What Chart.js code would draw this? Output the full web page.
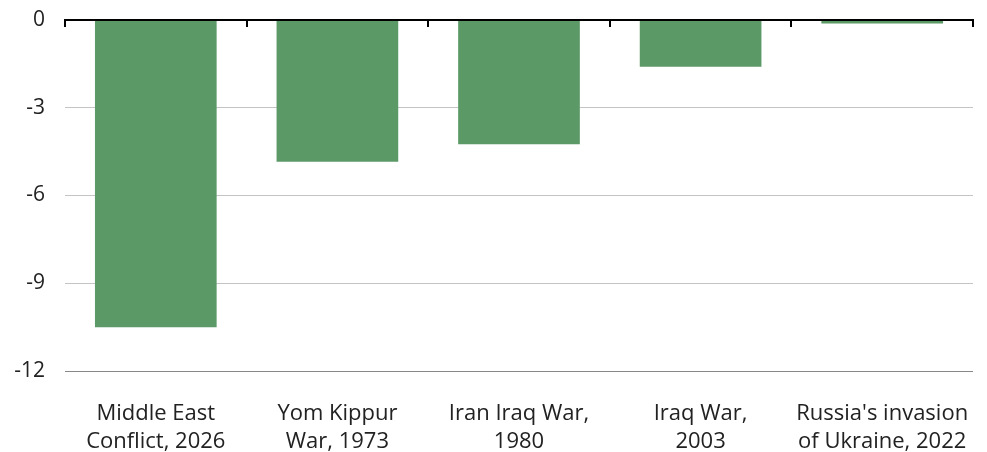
<!DOCTYPE html>
<html>
<head>
<meta charset="utf-8">
<script src="https://cdn.jsdelivr.net/npm/chart.js@4"></script>
<style>
html,body{margin:0;padding:0;background:#fff;}
#wrap{width:987px;height:452px;position:relative;}
</style>
</head>
<body>
<div id="wrap"><canvas id="c"></canvas></div>
<script>
const categories = [
  ["Middle East", "Conflict, 2026"],
  ["Yom Kippur", "War, 1973"],
  ["Iran Iraq War,", "1980"],
  ["Iraq War,", "2003"],
  ["Russia's invasion", "of Ukraine, 2022"]
];
const values = [-10.5, -4.85, -4.25, -1.6, -0.12];
const yTicks = [0, -3, -6, -9, -12];

const FONT = "'Open Sans', 'Noto Sans', sans-serif";

const tickMarks = {
  id: 'tickMarks',
  afterDatasetsDraw(chart) {
    const x = chart.scales.x, y = chart.scales.y;
    const ctx = chart.ctx;
    const y0 = y.getPixelForValue(0);
    ctx.save();
    ctx.strokeStyle = '#000';
    ctx.lineWidth = 2;
    ctx.beginPath();
    ctx.moveTo(x.left, y0);
    ctx.lineTo(x.right, y0);
    ctx.stroke();
    for (let i = 0; i <= categories.length; i++) {
      const px = Math.round(x.getPixelForValue(i - 0.5));
      ctx.beginPath();
      ctx.moveTo(px, y0 - 1);
      ctx.lineTo(px, y0 + 7);
      ctx.stroke();
    }
    ctx.restore();
  }
};

new Chart(document.getElementById('c'), {
  type: 'bar',
  data: {
    labels: categories,
    datasets: [{
      data: values,
      backgroundColor: '#5b9967',
      borderWidth: 0,
      categoryPercentage: 0.67,
      barPercentage: 1.0
    }]
  },
  options: {
    responsive: true,
    maintainAspectRatio: false,
    animation: false,
    devicePixelRatio: 1,
    layout: { padding: { top: 20, right: 14, left: 0, bottom: 0 } },
    plugins: { legend: { display: false }, tooltip: { enabled: false } },
    scales: {
      x: {
        position: 'bottom',
        grid: { display: false },
        border: { display: false },
        ticks: {
          color: '#222',
          font: { family: FONT, size: 22, lineHeight: 1.27 },
          padding: 21,
          maxRotation: 0,
          autoSkip: false
        },
        afterFit(s) { s.height = 81; s.paddingLeft = 0; s.paddingRight = 0; }
      },
      y: {
        min: -12,
        max: 0,
        afterBuildTicks(s) { s.ticks = yTicks.map(v => ({ value: v })); },
        grid: {
          drawTicks: false,
          color(ctx) {
            const v = ctx.tick ? ctx.tick.value : null;
            if (v === 0) return 'rgba(0,0,0,0)';
            if (v === -12) return '#888';
            return '#c4c4c4';
          },
          lineWidth: 1
        },
        border: { display: false },
        ticks: {
          color: '#222',
          font: { family: FONT, size: 21 },
          padding: 20,
          callback(v) { return String(v); }
        },
        afterFit(s) { s.width = 65; s.paddingTop = 0; s.paddingBottom = 0; }
      }
    }
  },
  plugins: [tickMarks]
});
</script>
</body>
</html>
